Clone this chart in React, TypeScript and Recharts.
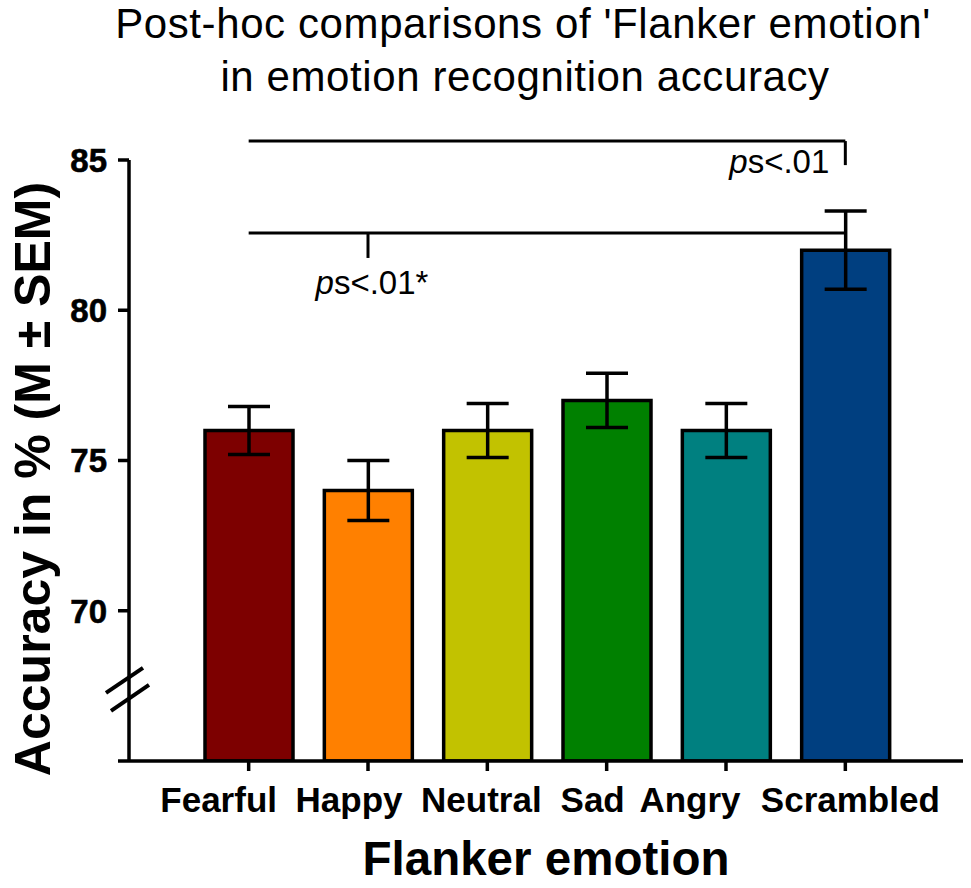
import React from 'react';
import {
  BarChart,
  Bar,
  XAxis,
  YAxis,
  Cell,
  ErrorBar,
  ReferenceLine,
  ReferenceDot,
} from 'recharts';

// ---- data ----
const categories = ['Fearful', 'Happy', 'Neutral', 'Sad', 'Angry', 'Scrambled'];
const accuracy = [76.0, 74.0, 76.0, 77.0, 76.0, 82.0];
const sem = [0.8, 1.0, 0.9, 0.9, 0.9, 1.3];
const barColors = ['#7d0000', '#ff8000', '#c2c200', '#008000', '#008080', '#003f80'];
const yTicks = [65, 67.4, 70, 75, 80, 85];
const yLabelTicks = [70, 75, 80, 85];
const axisBreakAt = 67.4;
const yDomain = [65, 85];

// significance annotations
const upperBracketY = 85.63;
const upperBracketDrop = 84.83;
const lowerBracketY = 82.57;
const lowerBracketDrop = 81.74;
const upperLabelY = 84.57;
const lowerLabelY = 80.54;
const upperLabel = ['p', 's<.01'];
const lowerLabel = ['p', 's<.01*'];

const title = ["Post-hoc comparisons of 'Flanker emotion'", 'in emotion recognition accuracy'];
const xTitle = 'Flanker emotion';
const yTitle = 'Accuracy in % (M ± SEM)';

const data = categories.map((c, i) => ({ name: c, value: accuracy[i], sem: sem[i] }));

const FONT = '"Liberation Sans", Arial, Helvetica, sans-serif';
const Y_TICK_SIZE = 11;
const Y_TICK_MARGIN = 11;
const X_TICK_LABEL_SHIFT = [-30, -19, -6, -14, -36, 5];

const YTick = (props: any) => {
  const { x, y, payload } = props;
  const ax = x + Y_TICK_SIZE + Y_TICK_MARGIN;
  const v = payload.value;
  if (v === axisBreakAt) {
    return (
      <g stroke="#000" strokeWidth={4}>
        <line x1={ax - 23} y1={y + 4} x2={ax + 14} y2={y - 21} />
        <line x1={ax - 18} y1={y + 22} x2={ax + 20} y2={y - 4} />
      </g>
    );
  }
  return (
    <g>
      <line x1={ax - Y_TICK_SIZE} y1={y} x2={ax} y2={y} stroke="#000" strokeWidth={3.5} />
      {yLabelTicks.includes(v) && (
        <text
          x={x}
          y={y}
          dy="0.36em"
          textAnchor="end"
          fontFamily={FONT}
          fontWeight="bold"
          fontSize={33}
          fill="#000"
          stroke="#000"
          strokeWidth={0.6}
        >
          {v}
        </text>
      )}
    </g>
  );
};

const XTick = (props: any) => {
  const { x, y, payload, index } = props;
  return (
    <text
      x={x + (X_TICK_LABEL_SHIFT[index] || 0)}
      y={y}
      dy="0.71em"
      textAnchor="middle"
      fontFamily={FONT}
      fontWeight="bold"
      fontSize={35}
      fill="#000"
    >
      {payload.value}
    </text>
  );
};

const PLabel = (parts: string[], anchor: 'middle' | 'end', dx: number) => (p: any) => (
  <text
    x={p.cx + dx}
    y={p.cy}
    textAnchor={anchor}
    fontFamily={FONT}
    fontSize={33}
    fill="#000"
  >
    <tspan fontStyle="italic">{parts[0]}</tspan>
    <tspan>{parts[1]}</tspan>
  </text>
);

export default function App() {
  return (
    <div style={{ position: 'absolute', left: 0, top: 0, width: 971, height: 888, background: '#fff' }}>
      <BarChart
        width={971}
        height={888}
        data={data}
        margin={{ top: 160, right: 8, bottom: 77, left: 59 }}
      >
        <XAxis
          dataKey="name"
          height={50}
          padding={{ left: 60, right: 58 }}
          axisLine={{ stroke: '#000', strokeWidth: 3.5 }}
          tickLine={{ stroke: '#000', strokeWidth: 3.5 }}
          tickSize={10}
          tickMargin={16}
          tick={<XTick />}
          interval={0}
        />
        <YAxis
          type="number"
          domain={yDomain}
          ticks={yTicks}
          width={70}
          allowDataOverflow
          axisLine={{ stroke: '#000', strokeWidth: 3.5 }}
          tickLine={false}
          tickSize={Y_TICK_SIZE}
          tickMargin={Y_TICK_MARGIN}
          tick={<YTick />}
          interval={0}
        />
        <Bar dataKey="value" barSize={88} stroke="#000" strokeWidth={3.5} isAnimationActive={false}>
          {data.map((d, i) => (
            <Cell key={d.name} fill={barColors[i]} />
          ))}
          <ErrorBar dataKey="sem" width={21} stroke="#000" strokeWidth={3.5} direction="y" />
        </Bar>
        <ReferenceLine
          segment={[
            { x: categories[0], y: upperBracketY },
            { x: categories[5], y: upperBracketY },
          ]}
          stroke="#000"
          strokeWidth={3}
          ifOverflow="visible"
        />
        <ReferenceLine
          segment={[
            { x: categories[5], y: upperBracketY },
            { x: categories[5], y: upperBracketDrop },
          ]}
          stroke="#000"
          strokeWidth={3}
          ifOverflow="visible"
        />
        <ReferenceLine
          segment={[
            { x: categories[0], y: lowerBracketY },
            { x: categories[5], y: lowerBracketY },
          ]}
          stroke="#000"
          strokeWidth={3}
          ifOverflow="visible"
        />
        <ReferenceLine
          segment={[
            { x: categories[1], y: lowerBracketY },
            { x: categories[1], y: lowerBracketDrop },
          ]}
          stroke="#000"
          strokeWidth={3}
          ifOverflow="visible"
        />
        <ReferenceDot
          x={categories[5]}
          y={upperLabelY}
          r={0}
          ifOverflow="visible"
          shape={PLabel(upperLabel, 'end', -16)}
        />
        <ReferenceDot
          x={categories[1]}
          y={lowerLabelY}
          r={0}
          ifOverflow="visible"
          shape={PLabel(lowerLabel, 'middle', 4)}
        />
      </BarChart>
      <svg
        width={971}
        height={888}
        style={{ position: 'absolute', left: 0, top: 0, pointerEvents: 'none' }}
      >
        <text x={523} y={38} textAnchor="middle" fontFamily={FONT} fontSize={42} letterSpacing={0.6} fill="#000">
          {title[0]}
        </text>
        <text x={525} y={91} textAnchor="middle" fontFamily={FONT} fontSize={42} letterSpacing={0.6} fill="#000">
          {title[1]}
        </text>
        <text
          x={546}
          y={875}
          textAnchor="middle"
          fontFamily={FONT}
          fontWeight="bold"
          fontSize={47.5}
          fill="#000"
        >
          {xTitle}
        </text>
        <text
          transform="translate(50,479) rotate(-90)"
          x={0}
          y={0}
          textAnchor="middle"
          fontFamily={FONT}
          fontWeight="bold"
          fontSize={50}
          fill="#000"
        >
          {yTitle}
        </text>
      </svg>
    </div>
  );
}
